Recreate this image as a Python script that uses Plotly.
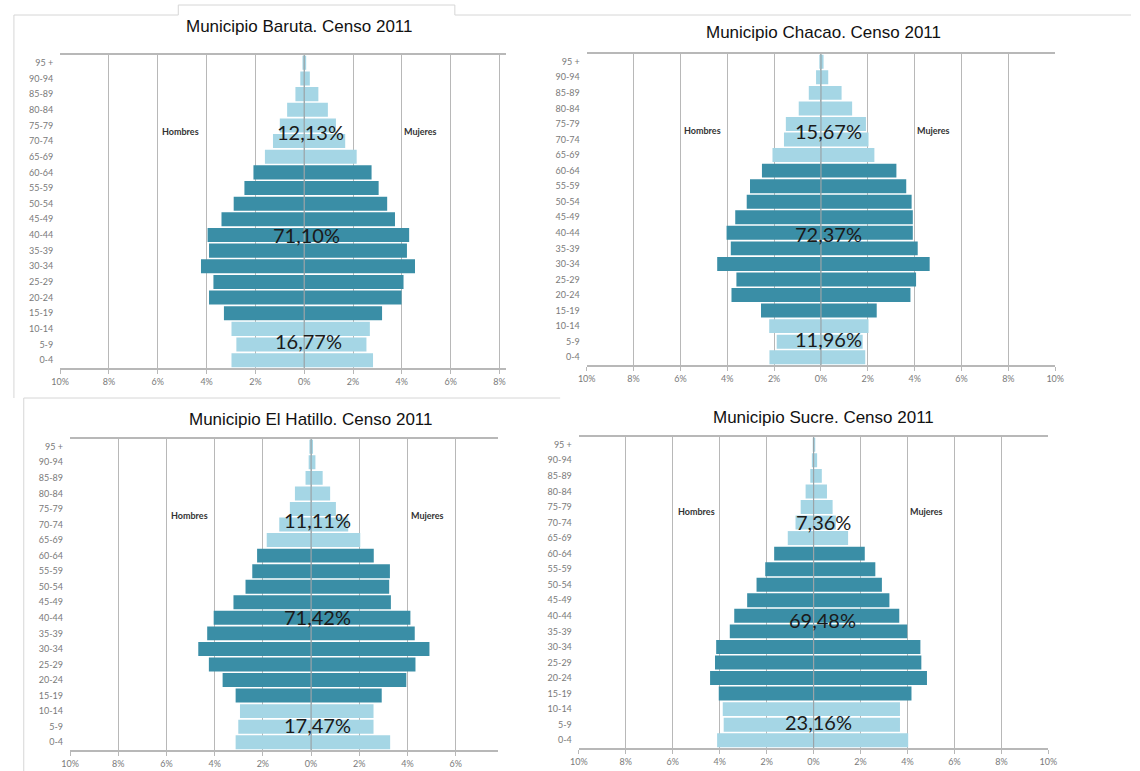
import plotly.graph_objects as go

W, H = 1140, 771

age_groups = ["0-4", "5-9", "10-14", "15-19", "20-24", "25-29", "30-34", "35-39",
              "40-44", "45-49", "50-54", "55-59", "60-64", "65-69", "70-74",
              "75-79", "80-84", "85-89", "90-94", "95 +"]
x_tick_values = [-10, -8, -6, -4, -2, 0, 2, 4, 6, 8, 10]
x_tick_labels = ["10%", "8%", "6%", "4%", "2%", "0%", "2%", "4%", "6%", "8%", "10%"]

titles = ["Municipio Baruta. Censo 2011", "Municipio Chacao. Censo 2011",
          "Municipio El Hatillo. Censo 2011", "Municipio Sucre. Censo 2011"]

# Percent of population by age group (0-4 ... 95+)
baruta_hombres = [2.98, 2.78, 2.98, 3.29, 3.90, 3.72, 4.23, 3.90, 3.96, 3.39,
                  2.89, 2.45, 2.08, 1.61, 1.28, 1.00, 0.70, 0.36, 0.16, 0.07]
baruta_mujeres = [2.82, 2.55, 2.69, 3.19, 3.99, 4.07, 4.54, 4.21, 4.30, 3.72,
                  3.40, 3.05, 2.76, 2.15, 1.68, 1.30, 0.97, 0.58, 0.23, 0.07]
chacao_hombres = [2.20, 1.89, 2.21, 2.56, 3.82, 3.61, 4.43, 3.85, 4.03, 3.66,
                  3.17, 3.03, 2.52, 2.07, 1.58, 1.50, 0.95, 0.52, 0.21, 0.07]
chacao_mujeres = [1.89, 1.78, 2.03, 2.38, 3.82, 4.06, 4.64, 4.13, 3.92, 3.92,
                  3.87, 3.64, 3.22, 2.28, 2.03, 1.92, 1.33, 0.88, 0.31, 0.11]
hatillo_hombres = [3.13, 3.02, 2.95, 3.13, 3.67, 4.24, 4.68, 4.31, 4.04, 3.22,
                   2.72, 2.44, 2.24, 1.84, 1.32, 0.88, 0.67, 0.23, 0.10, 0.07]
hatillo_mujeres = [3.28, 2.59, 2.59, 2.93, 3.95, 4.33, 4.91, 4.30, 4.12, 3.31,
                   3.24, 3.27, 2.60, 2.04, 1.54, 1.03, 0.79, 0.48, 0.18, 0.08]
sucre_hombres = [4.11, 3.83, 3.87, 4.04, 4.41, 4.20, 4.15, 3.57, 3.38, 2.83,
                 2.43, 2.06, 1.68, 1.10, 0.77, 0.55, 0.34, 0.14, 0.07, 0.03]
sucre_mujeres = [4.03, 3.68, 3.68, 4.17, 4.83, 4.59, 4.55, 3.99, 3.65, 3.23,
                 2.91, 2.63, 2.18, 1.47, 0.95, 0.81, 0.57, 0.35, 0.15, 0.07]

# Share of population in each broad age band: 65+, 15-64, 0-14
share_labels = [["12,13%", "71,10%", "16,77%"],
                ["15,67%", "72,37%", "11,96%"],
                ["11,11%", "71,42%", "17,47%"],
                ["7,36%", "69,48%", "23,16%"]]

hombres = [baruta_hombres, chacao_hombres, hatillo_hombres, sucre_hombres]
mujeres = [baruta_mujeres, chacao_mujeres, hatillo_mujeres, sucre_mujeres]

# ---- layout geometry (pixels in the 1140x771 page) ----
panels = [
    dict(px=(52, 505), py=(55, 368), xr=(-10, 8.27), title_xy=(295, 27),
         ann=[(0.25, 14.55), (0.1, 8.0), (0.17, 1.2)], hm=(-5.08, 4.75, 14.6)),
    dict(px=(587, 1063), py=(54, 365), xr=(-10, 10), title_xy=(828, 33),
         ann=[(0.34, 14.57), (0.3, 7.9), (0.34, 1.15)], hm=(-5.04, 4.79, 14.6)),
    dict(px=(62, 497), py=(439, 750), xr=(-10, 7.76), title_xy=(306, 420),
         ann=[(0.25, 14.3), (0.25, 8.05), (0.25, 1.1)], hm=(-5.06, 4.82, 14.6)),
    dict(px=(579, 1056), py=(437, 748), xr=(-10, 10), title_xy=(828, 417),
         ann=[(0.41, 14.06), (0.37, 7.7), (0.2, 1.2)], hm=(-5.0, 4.8, 14.7)),
]

LIGHT = "#a5d6e5"
DARK = "#3a8ea6"
colors = [DARK if 3 <= i <= 12 else LIGHT for i in range(len(age_groups))]

fig = go.Figure()
annotations = []
shapes = []
layout_axes = {}

for k, p in enumerate(panels):
    n = "" if k == 0 else str(k + 1)
    xa, ya = "x" + n, "y" + n
    fig.add_trace(go.Bar(
        y=age_groups, x=[-v for v in hombres[k]], orientation="h",
        marker=dict(color=colors, line=dict(width=0)),
        xaxis=xa, yaxis=ya, name="Hombres", showlegend=False,
        customdata=hombres[k], hovertemplate="%{y}: %{customdata}%<extra>Hombres</extra>"))
    fig.add_trace(go.Bar(
        y=age_groups, x=mujeres[k], orientation="h",
        marker=dict(color=colors, line=dict(width=0)),
        xaxis=xa, yaxis=ya, name="Mujeres", showlegend=False,
        hovertemplate="%{y}: %{x}%<extra>Mujeres</extra>"))

    x0, x1 = p["px"][0] / W, p["px"][1] / W
    y0, y1 = 1 - p["py"][1] / H, 1 - p["py"][0] / H
    layout_axes["xaxis" + n] = dict(
        domain=[x0, x1], anchor=ya, range=list(p["xr"]),
        tickvals=x_tick_values, ticktext=x_tick_labels,
        showgrid=True, gridcolor="#b8b8b8", gridwidth=1,
        zeroline=False,
        showline=True, linecolor="#b8b8b8", linewidth=1.5, mirror=True,
        ticks="outside", ticklen=4, tickcolor="#b8b8b8",
        tickfont=dict(family="Lato, Liberation Sans", size=9, color="#7a7a7a"),
        fixedrange=True)
    layout_axes["yaxis" + n] = dict(
        domain=[y0, y1], anchor=xa, range=[-0.5, 19.5],
        categoryorder="array", categoryarray=age_groups,
        showgrid=False, showline=False, ticks="", ticklabelstandoff=6,
        tickfont=dict(family="Lato, Liberation Sans", size=9, color="#7a7a7a"),
        fixedrange=True)

    # centre (0 %) line drawn over the bars
    shapes.append(dict(type="line", xref=xa, yref=ya + " domain", x0=0, x1=0, y0=0, y1=1,
                       layer="above", line=dict(color="#9aa4a8", width=1.2)))

    tx, ty = p["title_xy"]
    annotations.append(dict(
        x=tx / W, y=1 - ty / H, xref="paper", yref="paper", text=titles[k],
        showarrow=False, xanchor="center", yanchor="middle",
        font=dict(family="Liberation Sans Narrow, Liberation Sans", size=17, color="#111111")))
    for (ax, ay), lab in zip(p["ann"], share_labels[k]):
        annotations.append(dict(
            x=ax, y=ay, xref=xa, yref=ya, text=lab, showarrow=False,
            xanchor="center", yanchor="middle",
            font=dict(family="Lato, Open Sans", size=20, color="#1a1a1a")))
    hx, mx, hy = p["hm"]
    annotations.append(dict(x=hx, y=hy, xref=xa, yref=ya, text="<b>Hombres</b>",
                            showarrow=False, font=dict(family="Lato, Open Sans", size=9, color="#333333")))
    annotations.append(dict(x=mx, y=hy, xref=xa, yref=ya, text="<b>Mujeres</b>",
                            showarrow=False, font=dict(family="Lato, Open Sans", size=9, color="#333333")))

# faint edges of the pasted image pieces
edge = dict(type="line", xref="paper", yref="paper", line=dict(color="#d6d6d6", width=1))
seg_px = [
    (172, 5, 453, 5), (453, 5, 453, 15), (453, 15, 1140, 15), (172, 5, 172, 15),
    (5, 15, 172, 15), (5, 15, 5, 398),
    (15, 398, 560, 398), (15, 398, 15, 771),
]
shapes += [dict(edge, x0=a / W, y0=1 - b / H, x1=c / W, y1=1 - d / H) for a, b, c, d in seg_px]

fig.update_layout(
    width=W, height=H, margin=dict(l=0, r=0, t=0, b=0),
    paper_bgcolor="white", plot_bgcolor="white",
    barmode="relative", bargap=0.1,
    annotations=annotations, shapes=shapes,
    **layout_axes)

fig.write_html("out.html", config={"displayModeBar": False},
               post_script="document.body.style.margin='0';document.body.style.overflow='hidden';")
